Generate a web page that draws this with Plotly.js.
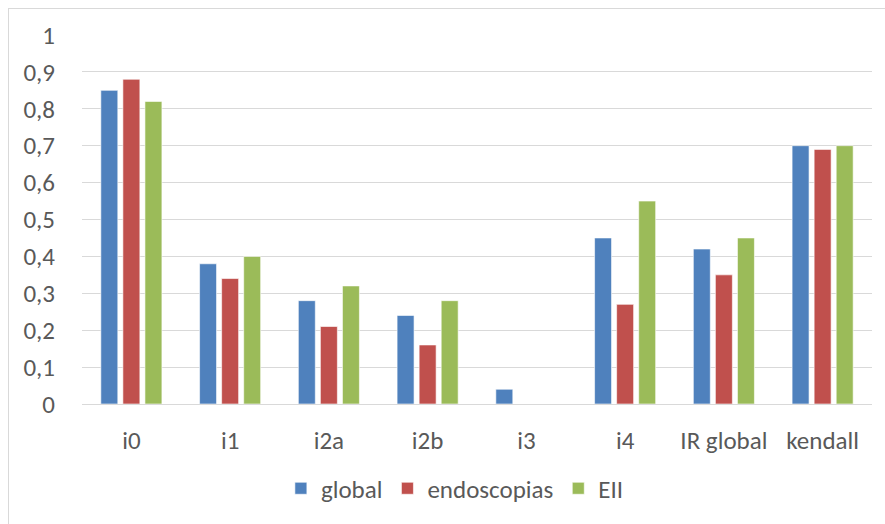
<!DOCTYPE html>
<html>
<head>
<meta charset="utf-8">
<script src="https://cdn.plot.ly/plotly-3.0.1.min.js"></script>
<style>
  html, body { margin: 0; padding: 0; background: #ffffff; }
  #wrap { position: relative; width: 885px; height: 524px; overflow: hidden; }
  #frame { position: absolute; left: 8px; top: 8px; width: 900px; height: 540px;
           border: 1px solid #d9d9d9; box-sizing: border-box; pointer-events: none; }
  #chart { position: absolute; left: 0; top: 0; width: 885px; height: 524px; }
</style>
</head>
<body>
<div id="wrap">
  <div id="chart"></div>
  <div id="frame"></div>
</div>
<script>
const categories = ["i0", "i1", "i2a", "i2b", "i3", "i4", "IR global", "kendall"];
const globalVals = [0.85, 0.38, 0.28, 0.24, 0.04, 0.45, 0.42, 0.70];
const endoscopiasVals = [0.88, 0.34, 0.21, 0.16, 0, 0.27, 0.35, 0.69];
const eiiVals = [0.82, 0.40, 0.32, 0.28, 0, 0.55, 0.45, 0.70];
const seriesNames = ["global", "endoscopias", "EII"];
const yTicks = [0, 0.1, 0.2, 0.3, 0.4, 0.5, 0.6, 0.7, 0.8, 0.9, 1];

const font = "Carlito, Calibri, Lato, sans-serif";
const colors = ["#4F81BD", "#C0504D", "#9BBB59"];
const values = [globalVals, endoscopiasVals, eiiVals];

const traces = seriesNames.map((name, i) => ({
  type: "bar",
  name: name,
  x: categories,
  y: values[i],
  marker: { color: colors[i], line: { color: "rgba(255,255,255,0.6)", width: 1 } },
  hoverinfo: "x+y+name"
}));

const layout = {
  width: 885,
  height: 524,
  margin: { l: 82, r: 13, t: 35, b: 118 },
  paper_bgcolor: "#ffffff",
  plot_bgcolor: "#ffffff",
  separators: ", ",
  barmode: "group",
  bargap: 0.33,
  bargroupgap: 0.23,
  font: { family: font, size: 25, color: "#595959" },
  xaxis: {
    type: "category",
    automargin: false,
    showgrid: false,
    showline: false,
    ticks: "",
    tickfont: { family: font, size: 25, color: "#595959" },
    ticklabelstandoff: 19
  },
  yaxis: {
    range: [0, 1],
    automargin: false,
    tickvals: yTicks,
    showgrid: true,
    gridcolor: "#d9d9d9",
    gridwidth: 1,
    zeroline: true,
    zerolinecolor: "#d9d9d9",
    zerolinewidth: 1,
    showline: false,
    ticks: "",
    ticklabelstandoff: 26,
    tickfont: { family: font, size: 25, color: "#595959" }
  },
  showlegend: true,
  legend: {
    orientation: "h",
    x: 0.472,
    xanchor: "center",
    y: -0.229,
    yanchor: "middle",
    font: { family: font, size: 25, color: "#595959" },
    itemwidth: 30,
    traceorder: "normal"
  }
};

Plotly.newPlot("chart", traces, layout, { displayModeBar: false, staticPlot: true });
</script>
</body>
</html>
